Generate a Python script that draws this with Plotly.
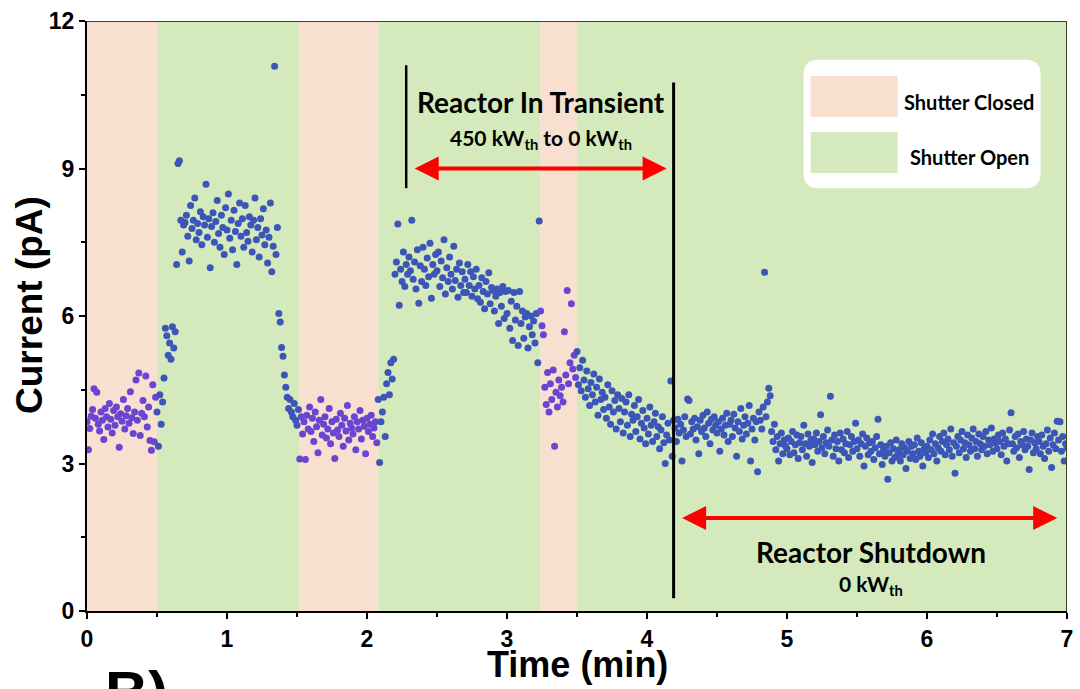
import plotly.graph_objects as go

# Shutter schedule (minutes) and state of each interval
shutter_edges = [0.0, 0.50, 1.52, 2.08, 3.24, 3.50, 7.0]
shutter_states = ["Closed", "Open", "Closed", "Open", "Closed", "Open"]

# Sampled time stamps (min)
time_min = [
    0.00, 0.01, 0.02, 0.03, 0.04, 0.05, 0.06, 0.07, 0.08, 0.09,
    0.10, 0.11, 0.12, 0.13, 0.14, 0.15, 0.16, 0.17, 0.18, 0.19,
    0.20, 0.21, 0.22, 0.23, 0.24, 0.25, 0.26, 0.27, 0.28, 0.29,
    0.30, 0.31, 0.32, 0.33, 0.34, 0.35, 0.36, 0.37, 0.38, 0.39,
    0.40, 0.41, 0.42, 0.43, 0.44, 0.45, 0.46, 0.47, 0.48, 0.49,
    0.50, 0.51, 0.52, 0.53, 0.54, 0.55, 0.56, 0.57, 0.58, 0.59,
    0.60, 0.61, 0.62, 0.63, 0.64, 0.65, 0.66, 0.67, 0.68, 0.69,
    0.70, 0.71, 0.72, 0.73, 0.74, 0.75, 0.76, 0.77, 0.78, 0.79,
    0.80, 0.81, 0.82, 0.83, 0.84, 0.85, 0.86, 0.87, 0.88, 0.89,
    0.90, 0.91, 0.92, 0.93, 0.94, 0.95, 0.96, 0.97, 0.98, 0.99,
    1.00, 1.01, 1.02, 1.03, 1.04, 1.05, 1.06, 1.07, 1.08, 1.09,
    1.10, 1.11, 1.12, 1.13, 1.14, 1.15, 1.16, 1.17, 1.18, 1.19,
    1.20, 1.21, 1.22, 1.23, 1.24, 1.25, 1.26, 1.27, 1.28, 1.29,
    1.30, 1.31, 1.32, 1.33, 1.34, 1.35, 1.36, 1.37, 1.38, 1.39,
    1.40, 1.41, 1.42, 1.43, 1.44, 1.45, 1.46, 1.47, 1.48, 1.49,
    1.50, 1.51, 1.52, 1.53, 1.54, 1.55, 1.56, 1.57, 1.58, 1.59,
    1.60, 1.61, 1.62, 1.63, 1.64, 1.65, 1.66, 1.67, 1.68, 1.69,
    1.70, 1.71, 1.72, 1.73, 1.74, 1.75, 1.76, 1.77, 1.78, 1.79,
    1.80, 1.81, 1.82, 1.83, 1.84, 1.85, 1.86, 1.87, 1.88, 1.89,
    1.90, 1.91, 1.92, 1.93, 1.94, 1.95, 1.96, 1.97, 1.98, 1.99,
    2.00, 2.01, 2.02, 2.03, 2.04, 2.05, 2.06, 2.07, 2.08, 2.09,
    2.10, 2.11, 2.12, 2.13, 2.14, 2.15, 2.16, 2.17, 2.18, 2.19,
    2.20, 2.21, 2.22, 2.23, 2.24, 2.25, 2.26, 2.27, 2.28, 2.29,
    2.30, 2.31, 2.32, 2.33, 2.34, 2.35, 2.36, 2.37, 2.38, 2.39,
    2.40, 2.41, 2.42, 2.43, 2.44, 2.45, 2.46, 2.47, 2.48, 2.49,
    2.50, 2.51, 2.52, 2.53, 2.54, 2.55, 2.56, 2.57, 2.58, 2.59,
    2.60, 2.61, 2.62, 2.63, 2.64, 2.65, 2.66, 2.67, 2.68, 2.69,
    2.70, 2.71, 2.72, 2.73, 2.74, 2.75, 2.76, 2.77, 2.78, 2.79,
    2.80, 2.81, 2.82, 2.83, 2.84, 2.85, 2.86, 2.87, 2.88, 2.89,
    2.90, 2.91, 2.92, 2.93, 2.94, 2.95, 2.96, 2.97, 2.98, 2.99,
    3.00, 3.01, 3.02, 3.03, 3.04, 3.05, 3.06, 3.07, 3.08, 3.09,
    3.10, 3.11, 3.12, 3.13, 3.14, 3.15, 3.16, 3.17, 3.18, 3.19,
    3.20, 3.21, 3.22, 3.23, 3.24, 3.25, 3.26, 3.27, 3.28, 3.29,
    3.30, 3.31, 3.32, 3.33, 3.34, 3.35, 3.36, 3.37, 3.38, 3.39,
    3.40, 3.41, 3.42, 3.43, 3.44, 3.45, 3.46, 3.47, 3.48, 3.49,
    3.50, 3.51, 3.52, 3.53, 3.54, 3.55, 3.56, 3.57, 3.58, 3.59,
    3.60, 3.61, 3.62, 3.63, 3.64, 3.65, 3.66, 3.67, 3.68, 3.69,
    3.70, 3.71, 3.72, 3.73, 3.74, 3.75, 3.76, 3.77, 3.78, 3.79,
    3.80, 3.81, 3.82, 3.83, 3.84, 3.85, 3.86, 3.87, 3.88, 3.89,
    3.90, 3.91, 3.92, 3.93, 3.94, 3.95, 3.96, 3.97, 3.98, 3.99,
    4.00, 4.01, 4.02, 4.03, 4.04, 4.05, 4.06, 4.07, 4.08, 4.09,
    4.10, 4.11, 4.12, 4.13, 4.14, 4.15, 4.16, 4.17, 4.18, 4.19,
    4.20, 4.21, 4.22, 4.23, 4.24, 4.25, 4.26, 4.27, 4.28, 4.29,
    4.30, 4.31, 4.32, 4.33, 4.34, 4.35, 4.36, 4.37, 4.38, 4.39,
    4.40, 4.41, 4.42, 4.43, 4.44, 4.45, 4.46, 4.47, 4.48, 4.49,
    4.50, 4.51, 4.52, 4.53, 4.54, 4.55, 4.56, 4.57, 4.58, 4.59,
    4.60, 4.61, 4.62, 4.63, 4.64, 4.65, 4.66, 4.67, 4.68, 4.69,
    4.70, 4.71, 4.72, 4.73, 4.74, 4.75, 4.76, 4.77, 4.78, 4.79,
    4.80, 4.81, 4.82, 4.83, 4.84, 4.85, 4.86, 4.87, 4.88, 4.89,
    4.90, 4.91, 4.92, 4.93, 4.94, 4.95, 4.96, 4.97, 4.98, 4.99,
    5.00, 5.01, 5.02, 5.03, 5.04, 5.05, 5.06, 5.07, 5.08, 5.09,
    5.10, 5.11, 5.12, 5.13, 5.14, 5.15, 5.16, 5.17, 5.18, 5.19,
    5.20, 5.21, 5.22, 5.23, 5.24, 5.25, 5.26, 5.27, 5.28, 5.29,
    5.30, 5.31, 5.32, 5.33, 5.34, 5.35, 5.36, 5.37, 5.38, 5.39,
    5.40, 5.41, 5.42, 5.43, 5.44, 5.45, 5.46, 5.47, 5.48, 5.49,
    5.50, 5.51, 5.52, 5.53, 5.54, 5.55, 5.56, 5.57, 5.58, 5.59,
    5.60, 5.61, 5.62, 5.63, 5.64, 5.65, 5.66, 5.67, 5.68, 5.69,
    5.70, 5.71, 5.72, 5.73, 5.74, 5.75, 5.76, 5.77, 5.78, 5.79,
    5.80, 5.81, 5.82, 5.83, 5.84, 5.85, 5.86, 5.87, 5.88, 5.89,
    5.90, 5.91, 5.92, 5.93, 5.94, 5.95, 5.96, 5.97, 5.98, 5.99,
    6.00, 6.01, 6.02, 6.03, 6.04, 6.05, 6.06, 6.07, 6.08, 6.09,
    6.10, 6.11, 6.12, 6.13, 6.14, 6.15, 6.16, 6.17, 6.18, 6.19,
    6.20, 6.21, 6.22, 6.23, 6.24, 6.25, 6.26, 6.27, 6.28, 6.29,
    6.30, 6.31, 6.32, 6.33, 6.34, 6.35, 6.36, 6.37, 6.38, 6.39,
    6.40, 6.41, 6.42, 6.43, 6.44, 6.45, 6.46, 6.47, 6.48, 6.49,
    6.50, 6.51, 6.52, 6.53, 6.54, 6.55, 6.56, 6.57, 6.58, 6.59,
    6.60, 6.61, 6.62, 6.63, 6.64, 6.65, 6.66, 6.67, 6.68, 6.69,
    6.70, 6.71, 6.72, 6.73, 6.74, 6.75, 6.76, 6.77, 6.78, 6.79,
    6.80, 6.81, 6.82, 6.83, 6.84, 6.85, 6.86, 6.87, 6.88, 6.89,
    6.90, 6.91, 6.92, 6.93, 6.94, 6.95, 6.96, 6.97, 6.98, 6.99,
    7.00,
]

# Measured current (pA)
current_pa = [
    3.85, 3.28, 3.71, 3.96, 4.10, 4.52, 3.92, 4.45, 3.80, 3.66,
    4.05, 3.88, 3.49, 4.12, 3.95, 3.74, 4.22, 3.90, 3.62, 4.08,
    3.78, 4.15, 3.95, 3.33, 4.01, 3.86, 4.30, 3.70, 3.97, 4.12,
    3.82, 4.46, 3.93, 3.61, 4.05, 4.70, 3.88, 4.84, 3.57, 4.02,
    4.28, 3.95, 4.78, 3.74, 4.15, 3.47, 3.27, 4.60, 3.44, 4.35,
    4.05, 3.35, 4.40, 3.80, 4.25, 4.74, 5.75, 5.60, 5.20, 5.45,
    5.12, 5.78, 5.35, 5.68, 7.05, 9.10, 9.16, 7.95, 7.30, 7.85,
    7.90, 8.05, 7.62, 7.12, 8.25, 7.78, 7.95, 8.40, 7.55, 7.88,
    7.70, 8.12, 7.45, 8.02, 7.85, 8.68, 7.60, 7.98, 6.98, 7.82,
    8.10, 7.50, 7.92, 8.35, 7.68, 7.40, 8.05, 7.80, 7.25, 8.20,
    7.75, 8.48, 7.58, 7.95, 7.35, 8.15, 7.72, 7.05, 7.88, 8.30,
    7.62, 7.98, 7.40, 8.25, 7.70, 7.52, 8.02, 7.85, 7.30, 7.95,
    8.40, 7.55, 7.80, 7.20, 7.98, 7.65, 8.18, 7.45, 7.75, 7.08,
    7.60, 8.30, 6.90, 7.42, 11.08, 7.25, 7.80, 6.05, 5.88, 5.36,
    5.18, 4.80, 4.55, 4.35, 4.12, 4.30, 4.05, 3.95, 4.22, 3.88,
    3.78, 4.10, 3.09, 3.95, 3.60, 3.85, 3.08, 3.98, 3.70, 4.15,
    3.65, 3.92, 3.45, 4.05, 3.75, 3.22, 3.88, 4.30, 3.58, 3.80,
    3.95, 3.52, 3.70, 4.12, 3.40, 3.85, 3.62, 3.10, 3.90, 3.68,
    3.55, 4.02, 3.78, 3.35, 3.92, 3.66, 4.18, 3.48, 3.82, 3.72,
    3.60, 3.95, 3.28, 3.85, 3.70, 4.08, 3.50, 3.88, 3.76, 3.20,
    3.92, 3.65, 3.80, 3.98, 3.55, 3.72, 3.85, 3.42, 4.30, 3.02,
    3.85, 4.05, 4.35, 3.55, 4.62, 4.85, 4.40, 5.05, 4.72, 5.12,
    6.85, 7.10, 7.87, 6.22, 6.95, 6.70, 7.30, 6.60, 7.05, 6.85,
    7.20, 6.92, 7.95, 6.75, 7.10, 6.55, 7.35, 6.26, 7.02, 6.70,
    7.40, 6.95, 6.62, 7.18, 6.80, 7.48, 6.36, 7.05, 6.85, 7.25,
    6.92, 7.30, 6.60, 7.12, 6.78, 7.55, 6.45, 6.98, 6.70, 7.20,
    6.85, 6.55, 7.42, 6.72, 6.95, 6.38, 7.08, 6.62, 6.90, 6.48,
    6.75, 6.48, 7.05, 6.62, 6.90, 6.40, 6.80, 6.55, 6.95, 6.35,
    6.62, 6.28, 6.78, 6.50, 6.15, 6.70, 6.45, 6.88, 6.25, 6.58,
    6.52, 6.10, 6.40, 6.55, 5.85, 6.48, 6.20, 6.60, 5.95, 6.50,
    6.05, 6.52, 5.75, 6.30, 5.50, 6.48, 5.92, 6.20, 5.40, 6.50,
    5.85, 6.10, 5.55, 5.98, 6.05, 5.35, 5.78, 6.00, 5.62, 5.90,
    5.45, 6.05, 5.05, 7.93, 6.10, 5.80, 5.62, 4.55, 4.20, 4.85,
    4.05, 4.62, 4.30, 4.90, 3.35, 4.45, 4.15, 4.70, 4.38, 4.55,
    4.25, 5.68, 4.80, 6.52, 4.62, 5.05, 6.25, 4.92, 5.20, 4.75,
    5.28, 4.60, 4.95, 4.48, 5.10, 4.70, 4.35, 4.88, 4.52, 4.18,
    4.65, 4.40, 4.82, 4.25, 4.55, 3.98, 4.72, 4.30, 4.45, 4.10,
    4.35, 3.92, 4.60, 4.15, 3.80, 4.48, 4.05, 4.28, 3.70, 4.40,
    4.12, 3.85, 4.32, 3.62, 4.05, 4.25, 3.78, 4.40, 3.55, 4.00,
    3.88, 4.18, 3.65, 3.95, 4.30, 3.50, 3.82, 4.08, 3.72, 3.40,
    3.92, 3.60, 4.15, 3.78, 3.45, 3.85, 4.02, 3.55, 3.75, 3.30,
    3.68, 3.95, 3.42, 3.00, 3.58, 3.82, 3.48, 4.68, 3.15, 3.88,
    3.72, 3.45, 3.90, 3.62, 3.80, 3.05, 3.68, 3.95, 3.55, 4.31,
    4.28, 3.60, 3.85, 3.70, 3.92, 3.48, 3.75, 3.20, 3.88, 3.65,
    3.98, 3.72, 3.55, 4.05, 3.82, 3.40, 3.90, 3.68, 3.95, 3.78,
    3.62, 3.85, 3.25, 3.70, 3.92, 3.58, 3.78, 4.02, 3.45, 3.80,
    3.88, 3.55, 4.00, 3.72, 3.15, 3.85, 3.65, 4.12, 3.50, 3.78,
    3.95, 3.60, 3.82, 4.18, 3.05, 3.70, 3.92, 3.48, 3.85, 2.83,
    4.05, 3.88, 3.70, 4.15, 6.89, 3.95, 4.25, 4.53, 4.38, 3.65,
    3.45, 3.80, 3.28, 3.55, 3.05, 3.40, 3.62, 3.20, 3.48, 3.35,
    3.30, 3.52, 3.18, 3.45, 3.65, 3.22, 3.38, 3.58, 3.10, 3.42,
    3.55, 3.28, 3.78, 3.40, 3.15, 3.60, 3.35, 3.48, 3.02, 3.50,
    3.38, 3.62, 3.25, 3.45, 3.99, 3.32, 3.55, 3.20, 3.42, 3.68,
    3.35, 4.37, 3.48, 3.15, 3.58, 3.30, 3.45, 3.05, 3.62, 3.28,
    3.50, 3.22, 3.40, 3.65, 3.12, 3.38, 3.55, 3.25, 3.45, 3.82,
    3.30, 3.48, 3.15, 3.40, 3.60, 2.95, 3.35, 3.52, 3.18, 3.42,
    3.25, 3.45, 3.08, 3.32, 3.55, 3.90, 3.20, 3.38, 2.98, 3.28,
    3.15, 3.35, 2.68, 3.22, 3.42, 3.05, 3.30, 3.12, 3.48, 3.18,
    3.28, 3.05, 3.40, 3.18, 3.32, 2.90, 3.25, 3.45, 3.10, 3.35,
    3.20, 3.38, 3.08, 3.52, 3.25, 3.15, 3.42, 2.95, 3.30, 3.22,
    3.35, 3.12, 3.48, 3.28, 3.60, 3.20, 3.40, 3.05, 3.32, 3.55,
    3.25, 3.45, 3.62, 3.18, 3.38, 3.50, 3.28, 3.70, 3.15, 3.42,
    2.80, 3.35, 3.55, 3.22, 3.48, 3.65, 3.30, 3.42, 3.12, 3.58,
    3.38, 3.25, 3.52, 3.70, 3.30, 3.45, 3.15, 3.60, 3.40, 3.28,
    3.55, 3.35, 3.65, 3.20, 3.48, 3.38, 3.72, 3.25, 3.50, 3.42,
    3.30, 3.58, 3.45, 3.18, 3.62, 3.35, 3.50, 3.05, 3.40, 3.68,
    4.03, 3.40, 3.25, 3.55, 3.32, 3.60, 3.12, 3.45, 3.38, 3.65,
    3.28, 3.50, 3.35, 2.88, 3.48, 3.62, 3.22, 3.42, 3.30, 3.55,
    3.45, 3.20, 3.58, 3.35, 3.10, 3.40, 3.68, 3.25, 3.52, 2.92,
    3.38, 3.62, 3.30, 3.86, 3.48, 3.85, 3.25, 3.55, 3.05, 3.40,
    3.32,
]

# Reactor phases
transient_start, shutdown_start = 2.28, 4.19

SHADE = {"Closed": "#F9DFCF", "Open": "#D4EABC"}
POINT = {"Closed": "#6946D2", "Open": "#3C55B9"}
TEXT_FONT = "Lato, 'Open Sans', sans-serif"
AXIS_FONT = "'Liberation Sans', Arial, sans-serif"


def state_at(t):
    for a, b, s in zip(shutter_edges[:-1], shutter_edges[1:], shutter_states):
        if a <= t < b:
            return s
    return shutter_states[-1]


point_colors = [POINT[state_at(t)] for t in time_min]

fig = go.Figure()

shapes = []
for a, b, s in zip(shutter_edges[:-1], shutter_edges[1:], shutter_states):
    shapes.append(dict(type="rect", xref="x", yref="y", x0=a, x1=b, y0=0, y1=12,
                       fillcolor=SHADE[s], line=dict(width=0), layer="below"))

# top and right frame
shapes.append(dict(type="line", xref="x", yref="y", x0=0, x1=7, y0=12, y1=12,
                   line=dict(color="#3B4624", width=2)))
shapes.append(dict(type="line", xref="x", yref="y", x0=7, x1=7, y0=0, y1=12,
                   line=dict(color="#3B4624", width=2)))

# phase markers
shapes.append(dict(type="line", xref="x", yref="y", x0=transient_start, x1=transient_start,
                   y0=8.6, y1=11.1, line=dict(color="black", width=2.5)))
shapes.append(dict(type="line", xref="x", yref="y", x0=shutdown_start, x1=shutdown_start,
                   y0=0.26, y1=10.75, line=dict(color="black", width=3)))

# legend box with rounded corners
bx0, bx1, by0, by1 = 5.118, 6.812, 8.60, 11.21
rx, ry = 0.11, 0.31
path = (f"M {bx0+rx},{by0} L {bx1-rx},{by0} Q {bx1},{by0} {bx1},{by0+ry} "
        f"L {bx1},{by1-ry} Q {bx1},{by1} {bx1-rx},{by1} L {bx0+rx},{by1} "
        f"Q {bx0},{by1} {bx0},{by1-ry} L {bx0},{by0+ry} Q {bx0},{by0} {bx0+rx},{by0} Z")
shapes.append(dict(type="path", xref="x", yref="y", path=path,
                   fillcolor="white", line=dict(width=0)))
shapes.append(dict(type="rect", xref="x", yref="y", x0=5.168, x1=5.79, y0=10.05, y1=10.88,
                   fillcolor=SHADE["Closed"], line=dict(width=0)))
shapes.append(dict(type="rect", xref="x", yref="y", x0=5.168, x1=5.79, y0=8.91, y1=9.74,
                   fillcolor=SHADE["Open"], line=dict(width=0)))

fig.add_trace(go.Scatter(
    x=time_min, y=current_pa, mode="markers",
    marker=dict(color=point_colors, size=7, line=dict(width=0)),
    hoverinfo="skip", showlegend=False,
))


def label(x, y, text, size, **kw):
    d = dict(x=x, y=y, text=text, showarrow=False, xanchor="center", yanchor="middle",
             font=dict(family=TEXT_FONT, size=size, color="black"))
    d.update(kw)
    return d


annotations = [
    label(6.30, 10.35, "<b>Shutter Closed</b>", 20),
    label(6.30, 9.23, "<b>Shutter Open</b>", 20),
    label(3.24, 10.35, "<b>Reactor In Transient</b>", 28),
    label(3.24, 9.60, "<b>450 kW<sub>th</sub> to 0 kW<sub>th</sub></b>", 21),
    label(5.60, 1.20, "<b>Reactor Shutdown</b>", 28),
    label(5.60, 0.52, "<b>0 kW<sub>th</sub></b>", 21),
    # double-headed phase arrows
    dict(x=4.14, y=9.0, ax=2.33, ay=9.0, xref="x", yref="y", axref="x", ayref="y",
         text="", showarrow=True, arrowside="end+start", arrowhead=2, startarrowhead=2,
         arrowsize=1.2, startarrowsize=1.2, arrowwidth=4, arrowcolor="#FF0000",
         standoff=0, startstandoff=0),
    dict(x=6.93, y=1.89, ax=4.24, ay=1.89, xref="x", yref="y", axref="x", ayref="y",
         text="", showarrow=True, arrowside="end+start", arrowhead=2, startarrowhead=2,
         arrowsize=1.2, startarrowsize=1.2, arrowwidth=4, arrowcolor="#FF0000",
         standoff=0, startstandoff=0),
    # axis titles
    dict(xref="paper", yref="paper", x=0.5, y=-0.09, xanchor="center", yanchor="middle",
         text="<b>Time (min)</b>", showarrow=False,
         font=dict(family=AXIS_FONT, size=36, color="black")),
    dict(xref="paper", yref="paper", x=-0.058, y=0.519, xanchor="center", yanchor="middle",
         text="<b>Current (pA)</b>", textangle=-90, showarrow=False,
         font=dict(family=AXIS_FONT, size=37, color="black")),
    # panel label
    dict(xref="paper", yref="paper", x=0.016, y=-0.078, xanchor="left", yanchor="top",
         text="<b>B)</b>", showarrow=False, font=dict(family=AXIS_FONT, size=60, color="black")),
]

axis_common = dict(
    ticks="outside", ticklen=6, tickwidth=2, tickcolor="black",
    showline=True, linecolor="black", linewidth=2, showgrid=False, zeroline=False,
    tickfont=dict(family=AXIS_FONT, size=23, color="black", weight="bold"),
    automargin=False, fixedrange=True,
)

fig.update_layout(
    width=1080, height=689,
    margin=dict(l=87, r=13, t=21, b=78, autoexpand=False),
    paper_bgcolor="white", plot_bgcolor="white",
    shapes=shapes, annotations=annotations, showlegend=False,
    xaxis=dict(range=[0, 7], tickmode="array", tickvals=[0, 1, 2, 3, 4, 5, 6, 7],
               minor=dict(ticks="outside", dtick=0.5, ticklen=4, tickwidth=2, tickcolor="black"),
               **axis_common),
    yaxis=dict(range=[0, 12], tickmode="array", tickvals=[0, 3, 6, 9, 12],
               minor=dict(ticks="outside", dtick=1.5, ticklen=4, tickwidth=2, tickcolor="black"),
               **axis_common),
)

fig.write_html("out.html")
